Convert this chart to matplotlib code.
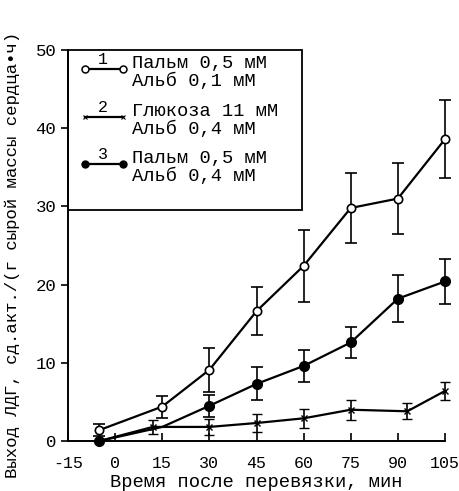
import matplotlib
matplotlib.use("Agg")
import matplotlib.pyplot as plt
from matplotlib.patches import Rectangle
from matplotlib.lines import Line2D

plt.rcParams['font.family'] = ['Liberation Mono', 'DejaVu Sans Mono']
plt.rcParams['axes.unicode_minus'] = False

# Series 1: open circles (Пальм 0,5 мМ / Альб 0,1 мМ)
x1 = [-5, 15, 30, 45, 60, 75, 90, 105]
y1 = [1.4, 4.4, 9.1, 16.6, 22.4, 29.8, 31.0, 38.6]
e1 = [0.8, 1.4, 2.8, 3.1, 4.6, 4.5, 4.5, 5.0]

# Series 2: crosses (Глюкоза 11 мМ / Альб 0,4 мМ)
x2 = [-5, 12, 30, 45, 60, 75, 93, 105]
y2 = [0.0, 1.8, 1.8, 2.3, 2.9, 4.0, 3.8, 6.4]
e2 = [0.0, 0.9, 1.0, 1.2, 1.2, 1.3, 1.0, 1.2]

# Series 3: filled circles (Пальм 0,5 мМ / Альб 0,4 мМ)
x3 = [-5, 15, 30, 45, 60, 75, 90, 105]
y3 = [0.0, 1.8, 4.5, 7.3, 9.6, 12.6, 18.2, 20.4]
e3 = [0.0, 0.0, 1.4, 2.1, 2.0, 2.0, 3.0, 2.9]

xticks = [-15, 0, 15, 30, 45, 60, 75, 90, 105]
yticks = [0, 10, 20, 30, 40, 50]
legend_num = ["1", "2", "3"]
legend_txt = [("Пальм 0,5 мМ", "Альб 0,1 мМ"),
              ("Глюкоза 11 мМ", "Альб 0,4 мМ"),
              ("Пальм 0,5 мМ", "Альб 0,4 мМ")]
xlabel = "Время после перевязки, мин"
ylabel = "Выход ЛДГ, сд.акт./(г сырой массы сердца•ч)"

fig = plt.figure(figsize=(4.6, 4.91), dpi=100)
ax = fig.add_axes([68/460, 1-441/491, (445-68)/460, (441-50)/491])

lw = 1.6
ax.errorbar(x1, y1, yerr=e1, color='black', lw=lw, marker='o', mfc='white',
            mec='black', ms=6, mew=1.2, capsize=4, elinewidth=1.2, capthick=1.2,
            clip_on=False, zorder=3)
ax.errorbar(x2, y2, yerr=e2, color='black', lw=lw, marker='x', ms=4.5, mew=1.0,
            capsize=3.5, elinewidth=1.2, capthick=1.2, clip_on=False, zorder=3)
ax.errorbar(x3, y3, yerr=e3, color='black', lw=lw, marker='o', mfc='black',
            mec='black', ms=7, capsize=4, elinewidth=1.2, capthick=1.2,
            markevery=[0, 2, 3, 4, 5, 6, 7], clip_on=False, zorder=3)

ax.set_xlim(-15, 105)
ax.set_ylim(0, 50)
ax.set_xticks(xticks)
ax.set_yticks(yticks)
ax.tick_params(axis='x', direction='in', length=6, width=1.2, labelsize=12, pad=11)
ax.tick_params(axis='y', direction='out', length=5, width=1.2, labelsize=12.5)
for s in ['top', 'right']:
    ax.spines[s].set_visible(False)
for s in ['left', 'bottom']:
    ax.spines[s].set_linewidth(1.4)

ax.set_xlabel(xlabel, fontsize=13.5, labelpad=2)
fig.text(12/460, 1-255/491, ylabel, rotation=90, fontsize=12.5, ha='center', va='center')

# legend box
bx0, by0, bx1, by1 = 0.0, (441-210)/391, (302-68)/377, 1.0
ax.add_patch(Rectangle((bx0, by0), bx1-bx0, by1-by0, transform=ax.transAxes,
                       fill=False, lw=1.3, ec='black', clip_on=False, zorder=4))
rows = [69, 117, 164]
styles = [dict(marker='o', mfc='white', mec='black', ms=5, mew=1.1),
          dict(marker='x', mec='black', ms=3, mew=0.8),
          dict(marker='o', mfc='black', mec='black', ms=5)]
def ax_xy(px, py):
    return (px-68)/377, (441-py)/391
for i, ry in enumerate(rows):
    xa, ya = ax_xy(85, ry)
    xb, _ = ax_xy(123, ry)
    ax.add_line(Line2D([xa, xb], [ya, ya], transform=ax.transAxes, color='black',
                       lw=1.6, markevery=[0, 1], clip_on=False, **styles[i]))
    xn, yn = ax_xy(103, ry-2)
    ax.text(xn, yn, legend_num[i], transform=ax.transAxes, ha='center', va='bottom',
            fontsize=12)
    xt, yt = ax_xy(132, ry-6)
    ax.text(xt, yt, legend_txt[i][0], transform=ax.transAxes, ha='left',
            va='center', fontsize=13.5)
    xt, yt = ax_xy(132, ry+12)
    ax.text(xt, yt, legend_txt[i][1], transform=ax.transAxes, ha='left',
            va='center', fontsize=13.5)

fig.savefig("out.png", dpi=100)
